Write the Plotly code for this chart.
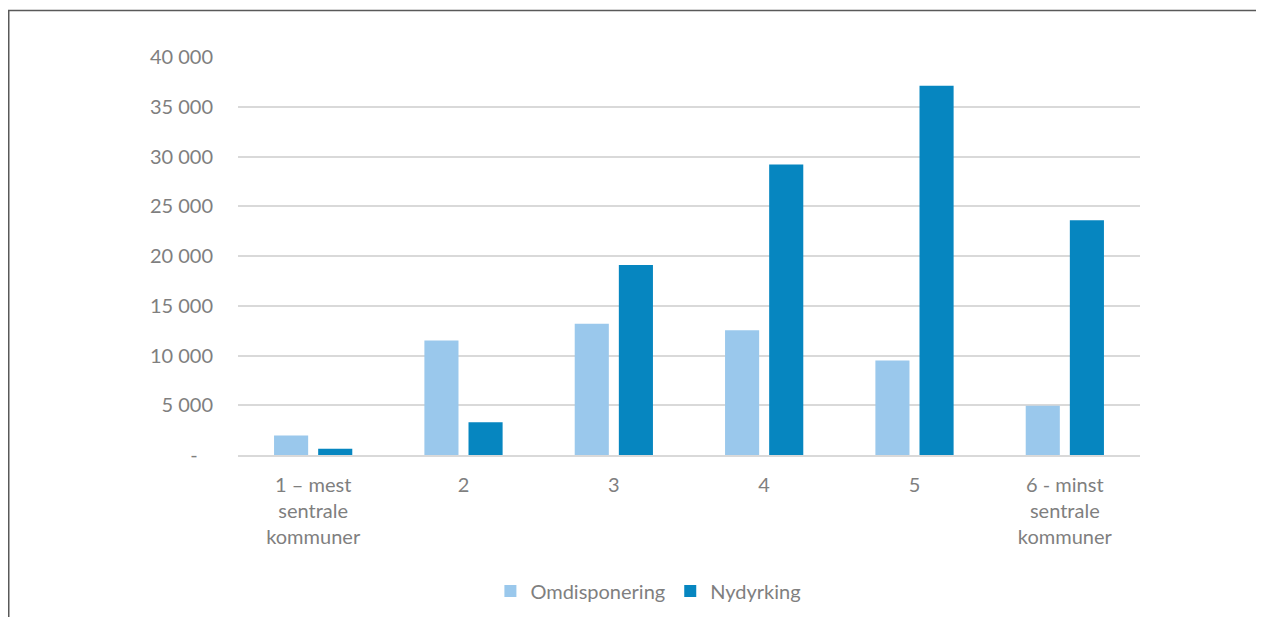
import plotly.graph_objects as go

categories = ["1 – mest<br>sentrale<br>kommuner", "2", "3", "4", "5", "6 - minst<br>sentrale<br>kommuner"]
omdisponering = [1950, 11500, 13200, 12550, 9500, 4950]
nydyrking = [630, 3300, 19100, 29200, 37100, 23600]
y_tickvals = [0, 5000, 10000, 15000, 20000, 25000, 30000, 35000, 40000]
y_ticktext = ["-\u00a0\u00a0\u00a0", "5 000", "10 000", "15 000", "20 000", "25 000", "30 000", "35 000", "40 000"]

FONT = "Lato"
TXT = "#7f7f7f"

# page body adds an 8px offset; the figure is sized and positioned to compensate
W, H = 1248, 609
L, T = 230, 49
PW, PH = 902, 398

fig = go.Figure()
fig.add_trace(go.Bar(name="Omdisponering", x=categories, y=omdisponering,
                     marker=dict(color="#9AC8EC", line=dict(width=0))))
fig.add_trace(go.Bar(name="Nydyrking", x=categories, y=nydyrking,
                     marker=dict(color="#0686C0", line=dict(width=0))))

fig.update_layout(
    width=W, height=H,
    paper_bgcolor="white", plot_bgcolor="white",
    margin=dict(l=L, r=W - L - PW, t=T, b=H - T - PH, autoexpand=False),
    barmode="group", bargap=0.413, bargroupgap=0.227,
    font=dict(family=FONT, size=20, color=TXT),
    showlegend=True,
    legend=dict(orientation="h", xref="container", yref="container",
                x=640.4 / W, xanchor="center", y=1 - 583 / H, yanchor="middle",
                font=dict(family=FONT, size=20, color=TXT), traceorder="normal"),
    xaxis=dict(showgrid=False, showline=True, linecolor="#D9D9D9", linewidth=1.5,
               ticks="", tickfont=dict(family=FONT, size=20, color=TXT),
               ticklabelstandoff=11, automargin=False),
    yaxis=dict(range=[0, 40000], tickvals=y_tickvals, ticktext=y_ticktext,
               showgrid=True, gridcolor="#D9D9D9", gridwidth=1.5,
               zeroline=False, showline=False, ticks="",
               tickfont=dict(family=FONT, size=20, color=TXT),
               ticklabelstandoff=24, automargin=False),
    shapes=[
        dict(type="line", xref="paper", yref="paper",
             x0=(0.75 - L) / PW, x1=(0.75 - L) / PW,
             y0=(T + PH - H - 10) / PH, y1=(T + PH - 2.5) / PH,
             line=dict(color="#595959", width=1.5)),
        dict(type="line", xref="paper", yref="paper",
             x0=(0 - L) / PW, x1=(W + 10 - L) / PW,
             y0=(T + PH - 2.5) / PH, y1=(T + PH - 2.5) / PH,
             line=dict(color="#595959", width=1.5)),
    ],
)

fig.write_html("out.html")
